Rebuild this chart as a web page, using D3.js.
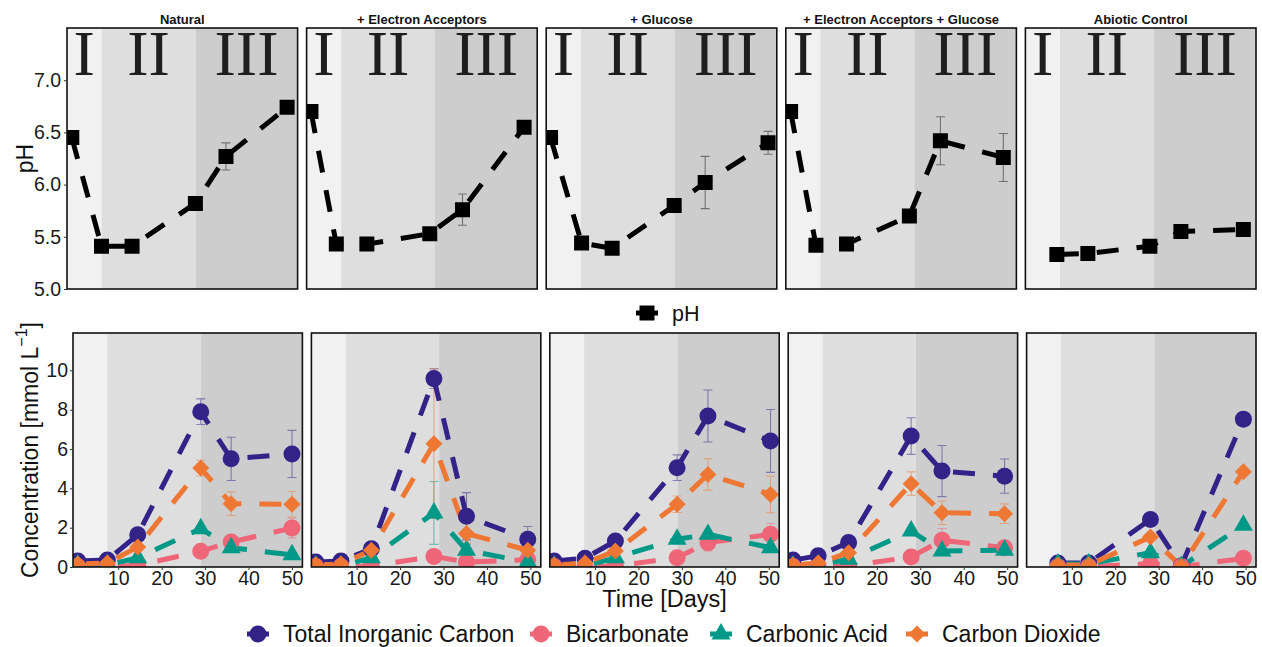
<!DOCTYPE html>
<html>
<head>
<meta charset="utf-8">
<script src="https://cdn.jsdelivr.net/npm/d3@7"></script>
<style>
  body { margin: 0; background: #fff; }
  svg { display: block; font-family: "Liberation Sans", Arial, sans-serif; }
</style>
</head>
<body>
<svg id="chart" width="1262" height="647"></svg>
<script>
// ---- Data -----------------------------------------------------------------
const treatments = ["Natural", "+ Electron Acceptors", "+ Glucose",
                    "+ Electron Acceptors + Glucose", "Abiotic Control"];
const phaseBreaks = [7.5, 29];          // day boundaries between phases I/II/III
const phaseLabels = ["I", "II", "III"];

// sampling day for each treatment
const sampleDays = [
  [0.7, 7.5, 14.5, 29.0, 36.0, 50.0],
  [0.6, 6.4, 13.4, 27.8, 35.3, 49.4],
  [0.6, 7.7, 14.7, 28.9, 36.0, 50.4],
  [0.7, 6.5, 13.5, 27.9, 35.0, 49.4],
  [6.8, 13.9, 28.1, 35.2, 49.5]
];

// pH (mean and error)
const phMean = [
  [6.45, 5.41, 5.41, 5.82, 6.27, 6.74],
  [6.70, 5.43, 5.43, 5.53, 5.76, 6.55],
  [6.45, 5.44, 5.39, 5.80, 6.02, 6.40],
  [6.70, 5.42, 5.43, 5.70, 6.42, 6.26],
  [5.33, 5.34, 5.41, 5.55, 5.57]
];
const phErr = [
  [0.02, 0.02, 0.02, 0.03, 0.13, 0.02],
  [0.01, 0.01, 0.01, 0.02, 0.15, 0.04],
  [0.01, 0.01, 0.01, 0.02, 0.25, 0.11],
  [0.01, 0.01, 0.01, 0.04, 0.23, 0.23],
  [0.01, 0.01, 0.01, 0.01, 0.01]
];

// Concentrations [mmol/L] (mean and error)
const ticMean = [
  [0.30, 0.35, 1.64, 7.90, 5.50, 5.75],
  [0.25, 0.30, 0.93, 9.58, 2.58, 1.41],
  [0.30, 0.45, 1.32, 5.05, 7.68, 6.41],
  [0.35, 0.57, 1.24, 6.66, 4.88, 4.62],
  [0.20, 0.20, 2.42, 0.05, 7.52]
];
const ticErr = [
  [0.05, 0.05, 0.10, 0.65, 1.10, 1.20],
  [0.03, 0.04, 0.10, 0.50, 1.20, 0.65],
  [0.03, 0.05, 0.10, 0.65, 1.32, 1.60],
  [0.03, 0.05, 0.10, 0.93, 1.30, 0.87],
  [0.02, 0.02, 0.05, 0.01, 0.05]
];
const bicarbMean = [
  [0.03, 0.03, 0.08, 0.80, 1.27, 1.98],
  [0.02, 0.02, 0.05, 0.54, 0.25, 0.37],
  [0.02, 0.02, 0.05, 0.47, 1.24, 1.66],
  [0.02, 0.02, 0.05, 0.51, 1.36, 0.98],
  [0.02, 0.02, 0.17, 0.02, 0.44]
];
const bicarbErr = [
  [0.01, 0.01, 0.02, 0.10, 0.35, 0.50],
  [0.01, 0.01, 0.01, 0.05, 0.05, 0.05],
  [0.01, 0.01, 0.01, 0.05, 0.42, 0.55],
  [0.01, 0.01, 0.01, 0.05, 0.60, 0.10],
  [0.01, 0.01, 0.02, 0.01, 0.02]
];
const carbonicMean = [
  [0.10, 0.10, 0.47, 1.95, 0.98, 0.62],
  [0.05, 0.05, 0.47, 2.75, 0.85, 0.25],
  [0.05, 0.05, 0.47, 1.41, 1.66, 0.98],
  [0.05, 0.10, 0.39, 1.83, 0.81, 0.85],
  [0.15, 0.15, 0.73, 0.03, 2.12]
];
const carbonicErr = [
  [0.01, 0.01, 0.05, 0.15, 0.15, 0.08],
  [0.01, 0.01, 0.05, 1.60, 0.30, 0.05],
  [0.01, 0.01, 0.05, 0.10, 0.10, 0.10],
  [0.01, 0.01, 0.05, 0.10, 0.10, 0.10],
  [0.01, 0.01, 0.03, 0.01, 0.05]
];
const co2Mean = [
  [0.15, 0.20, 1.02, 5.03, 3.22, 3.19],
  [0.12, 0.15, 0.85, 6.27, 1.70, 0.85],
  [0.10, 0.20, 0.81, 3.19, 4.71, 3.69],
  [0.10, 0.20, 0.73, 4.24, 2.76, 2.71],
  [0.10, 0.10, 1.53, 0.03, 4.85]
];
const co2Err = [
  [0.02, 0.03, 0.10, 0.40, 0.60, 0.65],
  [0.02, 0.02, 0.10, 3.80, 0.50, 0.20],
  [0.02, 0.03, 0.10, 0.42, 0.80, 0.93],
  [0.02, 0.03, 0.10, 0.60, 0.60, 0.50],
  [0.01, 0.01, 0.05, 0.01, 0.05]
];

const seriesNames  = ["Total Inorganic Carbon", "Bicarbonate", "Carbonic Acid", "Carbon Dioxide"];
const seriesMeans  = [ticMean, bicarbMean, carbonicMean, co2Mean];
const seriesErrs   = [ticErr, bicarbErr, carbonicErr, co2Err];
const seriesColors = ["#332288", "#EE6677", "#009988", "#EE7733"];
const seriesShapes = ["circle", "circle", "triangle", "diamond"];

const xTicks    = [10, 20, 30, 40, 50];
const phTicks   = [5.0, 5.5, 6.0, 6.5, 7.0];
const concTicks = [0, 2, 4, 6, 8, 10];

// ---- Layout ---------------------------------------------------------------
const svg = d3.select("#chart");
const topRow = { left: 67, right: 1256, top: 28, bottom: 289, gap: 9 };
const botRow = { left: 73, right: 1256, top: 333, bottom: 567, gap: 9 };
const nP = treatments.length;
const xDomain = [-0.4, 52.4];
const phaseFill = ["#F1F1F1", "#DEDEDE", "#CDCDCD"];
const dash = "22,18";
const sansFont = "'Liberation Sans', Arial, sans-serif";
const legendKeyX = [258, 541, 721, 917];

function panelBoxes(row) {
  const w = (row.right - row.left - row.gap * (nP - 1)) / nP;
  return d3.range(nP).map(i => ({ x: row.left + i * (w + row.gap), w, y: row.top, h: row.bottom - row.top }));
}

function markerPath(shape, cx, cy) {
  if (shape === "circle") {
    const r = 8.5;
    return `M${cx - r},${cy}a${r},${r} 0 1,0 ${2 * r},0a${r},${r} 0 1,0 ${-2 * r},0Z`;
  }
  if (shape === "triangle") {
    const s = 19, h = s * Math.sqrt(3) / 2;
    return `M${cx},${cy - h * 2 / 3}L${cx + s / 2},${cy + h / 3}L${cx - s / 2},${cy + h / 3}Z`;
  }
  if (shape === "diamond") {
    const d = 8.5;
    return `M${cx},${cy - d}L${cx + d},${cy}L${cx},${cy + d}L${cx - d},${cy}Z`;
  }
  const s = 7.5; // square
  return `M${cx - s},${cy - s}h${2 * s}v${2 * s}h${-2 * s}Z`;
}

function drawBackground(g, box, x) {
  const edges = [xDomain[0], ...phaseBreaks, xDomain[1]];
  g.selectAll("rect.phase").data(phaseFill).join("rect")
    .attr("class", "phase")
    .attr("x", (d, i) => x(edges[i]))
    .attr("width", (d, i) => x(edges[i + 1]) - x(edges[i]))
    .attr("y", 0).attr("height", box.h)
    .attr("fill", d => d);
}

function drawBorder(g, box) {
  g.append("rect").attr("x", 0).attr("y", 0).attr("width", box.w).attr("height", box.h)
    .attr("fill", "none").attr("stroke", "#111").attr("stroke-width", 1.6);
}

function errorBars(g, pts, color, opacity) {
  const cap = 4.5;
  const eg = g.append("g").attr("stroke", color).attr("stroke-opacity", opacity)
    .attr("stroke-width", 1.1).attr("fill", "none");
  pts.forEach(p => {
    eg.append("path").attr("d",
      `M${p.x},${p.lo}V${p.hi}M${p.x - cap},${p.lo}h${2 * cap}M${p.x - cap},${p.hi}h${2 * cap}`);
  });
}

function styleAxis(ax) {
  ax.select(".domain").remove();
  ax.selectAll("line").attr("stroke", "#333");
  ax.selectAll("text").attr("font-size", 19.5).attr("fill", "#1a1a1a").attr("font-family", sansFont);
}

// ---- Top row: pH ----------------------------------------------------------
const yPh = d3.scaleLinear().domain([5, 7.5]);
panelBoxes(topRow).forEach((box, i) => {
  const x = d3.scaleLinear().domain(xDomain).range([0, box.w]);
  const y = yPh.copy().range([box.h, 0]);
  const g = svg.append("g").attr("transform", `translate(${box.x},${box.y})`);
  const clipId = `clipTop${i}`;
  g.append("clipPath").attr("id", clipId).append("rect").attr("width", box.w).attr("height", box.h);

  drawBackground(g, box, x);

  // phase numerals
  const edges = [xDomain[0], ...phaseBreaks, xDomain[1]];
  g.selectAll("text.phase").data(phaseLabels).join("text")
    .attr("class", "phase")
    .attr("x", (d, k) => x((edges[k] + edges[k + 1]) / 2))
    .attr("y", 47)
    .attr("text-anchor", "middle")
    .attr("font-family", "'Liberation Serif', 'Times New Roman', serif")
    .attr("font-size", 64).attr("fill", "#1e1e1e")
    .text(d => d);

  const plot = g.append("g").attr("clip-path", `url(#${clipId})`);
  const pts = sampleDays[i].map((d, k) => ({
    x: x(d), y: y(phMean[i][k]),
    lo: y(phMean[i][k] - phErr[i][k]), hi: y(phMean[i][k] + phErr[i][k])
  }));
  errorBars(plot, pts, "#000", 0.45);
  plot.append("path")
    .attr("d", d3.line().x(p => p.x).y(p => p.y)(pts))
    .attr("fill", "none").attr("stroke", "#000").attr("stroke-width", 5)
    .attr("stroke-dasharray", dash);
  plot.selectAll("path.pt").data(pts).join("path").attr("class", "pt")
    .attr("d", p => markerPath("square", p.x, p.y)).attr("fill", "#000");

  drawBorder(g, box);

  // strip title
  svg.append("text").attr("x", box.x + box.w / 2).attr("y", box.y - 4)
    .attr("text-anchor", "middle").attr("font-weight", "bold").attr("font-size", 13)
    .attr("fill", "#111").text(treatments[i]);

  if (i === 0) {
    styleAxis(g.append("g").call(d3.axisLeft(y).tickValues(phTicks)
      .tickFormat(d3.format(".1f")).tickSize(3).tickPadding(3)));
  }
});

// ---- Bottom row: carbon species ------------------------------------------
const yConc = d3.scaleLinear().domain([0, 11.9]);
panelBoxes(botRow).forEach((box, i) => {
  const x = d3.scaleLinear().domain(xDomain).range([0, box.w]);
  const y = yConc.copy().range([box.h, 0]);
  const g = svg.append("g").attr("transform", `translate(${box.x},${box.y})`);
  const clipId = `clipBot${i}`;
  g.append("clipPath").attr("id", clipId).append("rect").attr("width", box.w).attr("height", box.h);

  drawBackground(g, box, x);
  const plot = g.append("g").attr("clip-path", `url(#${clipId})`);

  const seriesPts = seriesMeans.map((means, s) => sampleDays[i].map((d, k) => ({
    x: x(d), y: y(means[i][k]),
    lo: y(Math.max(0, means[i][k] - seriesErrs[s][i][k])),
    hi: y(means[i][k] + seriesErrs[s][i][k])
  })));

  seriesPts.forEach((pts, s) => errorBars(plot, pts, seriesColors[s], 0.5));
  seriesPts.forEach((pts, s) => {
    plot.append("path")
      .attr("d", d3.line().x(p => p.x).y(p => p.y)(pts))
      .attr("fill", "none").attr("stroke", seriesColors[s]).attr("stroke-width", 5)
      .attr("stroke-dasharray", dash);
  });
  seriesPts.forEach((pts, s) => {
    plot.append("g").selectAll("path").data(pts).join("path")
      .attr("d", p => markerPath(seriesShapes[s], p.x, p.y)).attr("fill", seriesColors[s]);
  });

  drawBorder(g, box);

  styleAxis(g.append("g").attr("transform", `translate(0,${box.h})`)
    .call(d3.axisBottom(x).tickValues(xTicks).tickSize(3).tickPadding(1)));

  if (i === 0) {
    styleAxis(g.append("g").call(d3.axisLeft(y).tickValues(concTicks).tickSize(3).tickPadding(2)));
  }
});

// ---- Axis titles ----------------------------------------------------------
svg.append("text")
  .attr("transform", `translate(25,${(topRow.top + topRow.bottom) / 2}) rotate(-90)`)
  .attr("text-anchor", "middle").attr("dominant-baseline", "central")
  .attr("font-size", 23).attr("fill", "#111").text("pH");

const concTitle = svg.append("text")
  .attr("transform", `translate(30,${(botRow.top + botRow.bottom) / 2}) rotate(-90)`)
  .attr("text-anchor", "middle").attr("dominant-baseline", "central")
  .attr("font-size", 23).attr("fill", "#111");
concTitle.append("tspan").text("Concentration [mmol L");
concTitle.append("tspan").attr("dy", -9).attr("font-size", 16).text("\u22121");
concTitle.append("tspan").attr("dy", 9).text("]");

{
  const mid = panelBoxes(botRow)[2];
  svg.append("text").attr("x", mid.x + mid.w / 2).attr("y", 607)
    .attr("text-anchor", "middle").attr("font-size", 23.5).attr("fill", "#111")
    .text("Time [Days]");
}

// ---- Legends ----------------------------------------------------------------
{
  const lg = svg.append("g").attr("transform", "translate(647,313)");
  lg.append("line").attr("x1", -11).attr("x2", 11).attr("stroke", "#000").attr("stroke-width", 5);
  lg.append("path").attr("d", markerPath("square", 0, 0)).attr("fill", "#000");
  lg.append("text").attr("x", 25).attr("dy", "0.35em").attr("font-size", 21.5).attr("fill", "#111").text("pH");
}
{
  const lg = svg.append("g").attr("transform", "translate(0,634)");
  seriesNames.forEach((name, s) => {
    const item = lg.append("g").attr("transform", `translate(${legendKeyX[s]},0)`);
    item.append("line").attr("x1", -11).attr("x2", 11).attr("stroke", seriesColors[s]).attr("stroke-width", 5);
    item.append("path").attr("d", markerPath(seriesShapes[s], 0, 0)).attr("fill", seriesColors[s]);
    item.append("text").attr("x", 25).attr("dy", "0.35em").attr("font-size", 23)
      .attr("fill", "#111").text(name);
  });
}
</script>
</body>
</html>
